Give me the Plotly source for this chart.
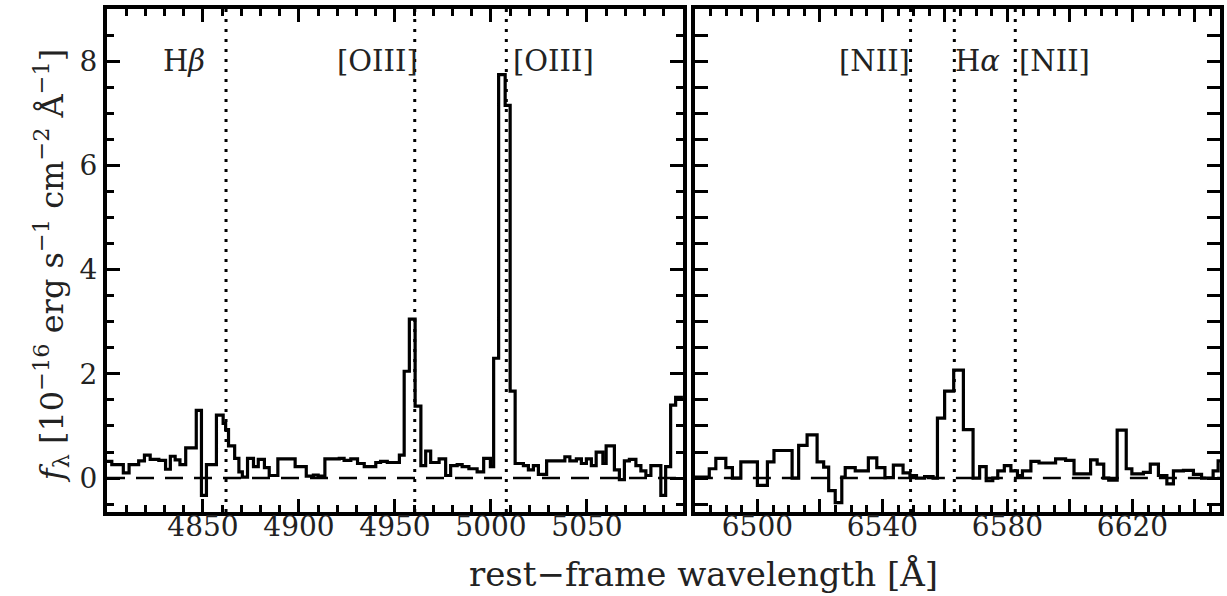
import plotly.graph_objects as go
from plotly.subplots import make_subplots

# ---------------- data ----------------
# Left panel: step spectrum, left edges of each step [Å] and flux [1e-16 erg/s/cm2/Å]
left_edges = [4800, 4802.5, 4808.5, 4811.5, 4816.5, 4819.5, 4822.5, 4827, 4830.5, 4833,
              4835.5, 4838, 4841, 4846.5, 4849.2, 4851.8, 4857, 4860.5, 4861.8, 4863.3,
              4866.5, 4868.7, 4870.5, 4873.2, 4876.3, 4878.8, 4882, 4884.5, 4889, 4898,
              4903.8, 4907.5, 4910, 4913.5, 4921, 4923.5, 4927, 4930.5, 4934, 4940,
              4942.5, 4946, 4952.3, 4954.8, 4957.5, 4960.5, 4963.5, 4966, 4968.6, 4973,
              4976.4, 4979, 4982.4, 4985, 4988.5, 4992.8, 4996.2, 4999.7, 5001.4, 5004,
              5007.4, 5010, 5012.6, 5016.9, 5019.5, 5022.1, 5024.7, 5029, 5038.5, 5041.1,
              5044.5, 5047.1, 5049.7, 5052.3, 5054.8, 5058.3, 5060, 5064.3, 5066.9, 5069.5,
              5072.1, 5075.5, 5078.1, 5080.7, 5083.3, 5088.5, 5091, 5093.6, 5096.2]
left_flux = [0.32, 0.26, 0.10, 0.26, 0.33, 0.44, 0.36, 0.34, 0.17, 0.42,
             0.35, 0.26, 0.58, 1.30, -0.33, 0.26, 1.21, 1.05, 0.93, 0.62,
             0.38, 0.12, 0.02, 0.38, 0.22, 0.36, 0.20, 0.05, 0.37, 0.22,
             0.04, 0.06, 0.04, 0.37, 0.38, 0.34, 0.37, 0.28, 0.22, 0.30,
             0.32, 0.30, 0.44, 2.05, 3.05, 1.38, 0.24, 0.52, 0.30, 0.37,
             0.05, 0.24, 0.26, 0.22, 0.18, 0.12, 0.38, 0.22, 2.30, 7.74,
             7.15, 1.67, 0.28, 0.24, 0.16, 0.24, 0.07, 0.33, 0.41, 0.33,
             0.37, 0.28, 0.37, 0.24, 0.50, 0.28, 0.62, 0.16, -0.03, 0.33,
             0.36, 0.24, 0.14, 0.05, 0.24, -0.33, 0.22, 1.40, 1.55]
left_end = 5100

# Right panel
right_edges = [6480, 6484.6, 6486.7, 6489.9, 6492, 6494.7, 6500, 6503.2, 6505.3, 6511.1,
               6513.2, 6515.9, 6519.1, 6521.2, 6522.8, 6524.9, 6527, 6528.1, 6531.3, 6535.5,
               6538.2, 6540.8, 6543.5, 6546.6, 6548.8, 6550.9, 6553.5, 6556.2, 6557.6, 6559.9,
               6562.8, 6565.9, 6569, 6571.1, 6573.2, 6575.3, 6576.9, 6579, 6581.1, 6583.2,
               6584.8, 6587.5, 6590.1, 6595.4, 6598.6, 6601.3, 6606.6, 6608.7, 6610.8, 6612.4,
               6615.1, 6618, 6619.8, 6623.5, 6625.7, 6628.3, 6631, 6633.1, 6636.3, 6639.5,
               6642.1, 6645.8, 6647.4]
right_flux = [0.02, 0.18, 0.38, 0.20, 0.00, 0.31, -0.14, 0.31, 0.53, 0.00,
              0.63, 0.83, 0.31, 0.21, -0.24, -0.47, 0.02, 0.20, 0.14, 0.39,
              0.20, 0.01, 0.25, 0.10, 0.05, 0.00, 0.03, 0.00, 1.15, 1.67,
              2.07, 0.93, 0.00, 0.22, -0.05, 0.00, 0.14, 0.24, 0.14, 0.05,
              0.14, 0.32, 0.29, 0.37, 0.34, 0.08, 0.35, 0.27, 0.00, -0.04,
              0.92, 0.18, 0.08, 0.11, 0.27, 0.05, -0.11, 0.14, 0.15, 0.07,
              0.00, 0.14, 0.33]
right_end = 6648

# Emission lines: position, label, anchor side
left_lines = [4862, 4960.3, 5008]
left_labels = ["H<i>β</i>", "[OIII]", "[OIII]"]
left_label_x = [4852, 4963, 5010.5]
left_label_anchor = ["right", "right", "left"]

right_lines = [6549, 6563, 6582.5]
right_labels = ["[NII]", "H<i>α</i>", "[NII]"]
right_label_x = [6549.5, 6562.6, 6583]
right_label_anchor = ["right", "left", "left"]

left_range = [4800, 5100]
right_range = [6480, 6648]
y_range = [-0.65, 9.0]
y_ticks = [0, 2, 4, 6, 8]
left_xticks = [4850, 4900, 4950, 5000, 5050]
right_xticks_labeled = [6500, 6540, 6580, 6620]
right_xticks_unlabeled = [6480, 6520, 6560, 6600, 6640]
label_y = 8.0

# ---------------- figure ----------------
W, H = 1227, 596
ml, mr, mt, mb = 107, 3, 9, 84
pw = W - ml - mr
ph = H - mt - mb
fig = make_subplots(rows=1, cols=2, horizontal_spacing=0)
d1 = [0, (685 - ml) / pw]
d2 = [(697 - ml) / pw, 1]

FONT = "DejaVu Serif"
black = "black"
txtc = "#222"

def stepxy(edges, flux, end):
    return list(edges) + [end], list(flux) + [flux[-1]]

for col, (edges, flux, end, rng) in enumerate(
        [(left_edges, left_flux, left_end, left_range),
         (right_edges, right_flux, right_end, right_range)], start=1):
    fig.add_trace(go.Scatter(x=rng, y=[0, 0], mode="lines",
                             line=dict(color=black, width=2.5, dash="18px,11px"),
                             showlegend=False, hoverinfo="skip"), row=1, col=col)
    sx, sy = stepxy(edges, flux, end)
    fig.add_trace(go.Scatter(x=sx, y=sy, mode="lines", line_shape="hv",
                             line=dict(color=black, width=3.2),
                             showlegend=False), row=1, col=col)

for col, lines in [(1, left_lines), (2, right_lines)]:
    for lx in lines:
        fig.add_vline(x=lx, line=dict(color=black, width=3, dash="3px,7px"), row=1, col=col)

axis_common = dict(showline=True, linewidth=4, linecolor=black, mirror="allticks",
                   ticks="inside", ticklen=13, tickwidth=3, tickcolor=black,
                   showgrid=False, zeroline=False,
                   tickfont=dict(family=FONT, size=28, color=txtc))

fig.update_xaxes(**axis_common, range=left_range, domain=d1, tickmode="array",
                 tickvals=left_xticks, ticklabelstandoff=-14,
                 minor=dict(ticks="inside", ticklen=7, tickwidth=3, tickcolor=black,
                            tickmode="linear", tick0=4800, dtick=10, showgrid=False),
                 row=1, col=1)
fig.update_xaxes(**axis_common, range=right_range, domain=d2, tickmode="array",
                 tickvals=right_xticks_labeled, ticklabelstandoff=-14,
                 minor=dict(ticks="inside", ticklen=7, tickwidth=3, tickcolor=black,
                            tickmode="linear", tick0=6480, dtick=5, showgrid=False),
                 row=1, col=2)
yminor = dict(ticks="inside", ticklen=7, tickwidth=3, tickcolor=black,
              tickmode="linear", tick0=0, dtick=0.5, showgrid=False)
fig.update_yaxes(**axis_common, range=y_range, tickmode="array", tickvals=y_ticks,
                 minor=yminor, row=1, col=1)
fig.update_yaxes(**axis_common, range=y_range, tickmode="array", tickvals=y_ticks,
                 showticklabels=False, minor=yminor, row=1, col=2)

# extra unlabeled major ticks for the right panel (overlay axis)
fig.update_layout(xaxis3=dict(overlaying="x2", anchor="y2", range=right_range,
                              showline=True, linewidth=4, linecolor=black,
                              mirror="allticks", ticks="inside", ticklen=13,
                              tickwidth=3, tickcolor=black, showgrid=False,
                              zeroline=False, tickmode="array",
                              tickvals=right_xticks_unlabeled, showticklabels=False))
fig.add_trace(go.Scatter(x=right_range, y=[None, None], xaxis="x3", yaxis="y2",
                         mode="lines", showlegend=False, hoverinfo="skip"))

ann = []
for xs, labs, anc, xr in [(left_label_x, left_labels, left_label_anchor, "x"),
                          (right_label_x, right_labels, right_label_anchor, "x2")]:
    for x, t, a in zip(xs, labs, anc):
        ann.append(dict(x=x, y=label_y, xref=xr, yref="y", text=t, showarrow=False,
                        xanchor=a, yanchor="middle",
                        font=dict(family=FONT, size=29, color=txtc)))

ann.append(dict(x=(706 - ml) / pw, y=-62 / ph, xref="paper", yref="paper",
                text="rest−frame wavelength [Å]", showarrow=False,
                xanchor="center", yanchor="middle",
                font=dict(family=FONT, size=34, color=txtc)))
ann.append(dict(x=(51 - ml) / pw, y=(512 - 266) / ph, xref="paper", yref="paper",
                text="<i>f</i><sub>λ</sub> [10<sup>−16</sup> erg s<sup>−1</sup> cm<sup>−2</sup> Å<sup>−1</sup>]",
                showarrow=False, textangle=-90, xanchor="center", yanchor="middle",
                font=dict(family=FONT, size=32, color=txtc)))

fig.update_layout(width=W, height=H, margin=dict(l=ml, r=mr, t=mt, b=mb),
                  paper_bgcolor="white", plot_bgcolor="white", annotations=ann,
                  showlegend=False)

fig.write_html("out.html", config={"displayModeBar": False},
               post_script="document.body.style.margin='0px';")
